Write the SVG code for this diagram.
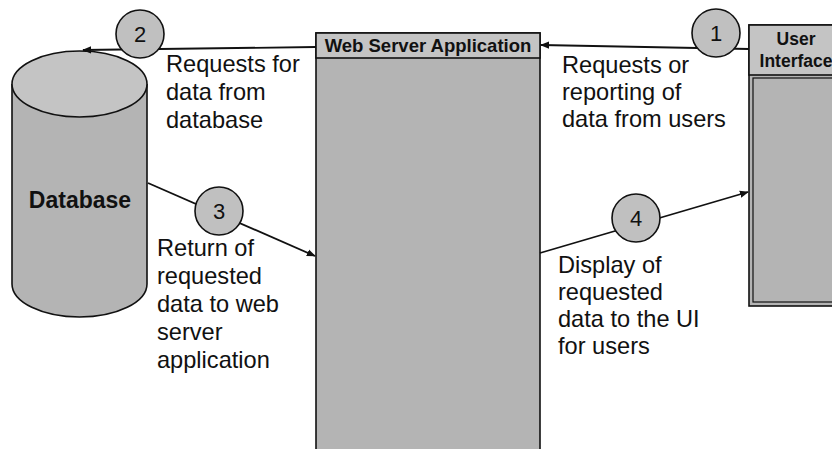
<svg xmlns="http://www.w3.org/2000/svg" width="832" height="449" viewBox="0 0 832 449">
<defs>
<style>
.shape{stroke:#111;stroke-width:1.6}
.body{fill:#b4b4b4}
.light{fill:#c4c4c4}
.conn{stroke:#111;stroke-width:1.8;fill:none}
.lbl{font-family:"Liberation Sans",Arial,sans-serif;font-size:23.6px;fill:#111}
.num{font-family:"Liberation Sans",Arial,sans-serif;font-size:22px;fill:#111;text-anchor:middle}
.ttl{font-family:"Liberation Sans",Arial,sans-serif;font-weight:bold;fill:#111;text-anchor:middle}
.badge{fill:#c0c0c0;stroke:#111;stroke-width:1.6}
</style>
<marker id="arr" viewBox="0 0 10 10" refX="9" refY="5" markerWidth="5" markerHeight="5" orient="auto-start-reverse" markerUnits="strokeWidth">
<path d="M0,1 L10,5 L0,9 z" fill="#111"/>
</marker>
</defs>
<rect width="832" height="449" fill="#fff"/>

<g id="database">
<path class="shape body" d="M12,84 L12,284 A67.5,33 0 0 0 147,284 L147,84"/>
<ellipse class="shape light" cx="79.5" cy="84" rx="67.5" ry="33"/>
<text class="ttl" x="80" y="208" font-size="23">Database</text>
</g>

<g id="web-server">
<rect class="shape body" x="316" y="33" width="224" height="430"/>
<rect class="shape light" x="316" y="33" width="224" height="25"/>
<text class="ttl" x="428" y="52" font-size="18.5">Web Server Application</text>
</g>

<g id="user-interface">
<rect class="shape body" x="749" y="25" width="100" height="281"/>
<rect class="shape light" x="749" y="25" width="100" height="50"/>
<rect x="753" y="78" width="96" height="224" fill="#b4b4b4" stroke="#111" stroke-width="1.2"/>
<text class="ttl" x="796" y="45" font-size="17.5">User</text>
<text class="ttl" x="796" y="67" font-size="17.5">Interface</text>
</g>

<g id="connectors">
<line class="conn" x1="749" y1="49" x2="541" y2="45" marker-end="url(#arr)"/>
<line class="conn" x1="316" y1="47" x2="83" y2="50" marker-end="url(#arr)"/>
<line class="conn" x1="148" y1="183" x2="315" y2="256" marker-end="url(#arr)"/>
<line class="conn" x1="540" y1="253" x2="748" y2="192" marker-end="url(#arr)"/>
</g>

<g id="step-1">
<circle class="badge" cx="716" cy="33" r="24"/>
<text class="num" x="716" y="41">1</text>
<text class="lbl" x="562"><tspan x="562" y="73">Requests or</tspan><tspan x="562" y="100">reporting of</tspan><tspan x="562" y="127">data from users</tspan></text>
</g>
<g id="step-2">
<circle class="badge" cx="140" cy="34" r="24"/>
<text class="num" x="140" y="42">2</text>
<text class="lbl" x="166"><tspan x="166" y="72">Requests for</tspan><tspan x="166" y="100">data from</tspan><tspan x="166" y="128">database</tspan></text>
</g>
<g id="step-3">
<circle class="badge" cx="219" cy="211" r="24"/>
<text class="num" x="219" y="219">3</text>
<text class="lbl" x="157"><tspan x="157" y="256">Return of</tspan><tspan x="157" y="284">requested</tspan><tspan x="157" y="312">data to web</tspan><tspan x="157" y="340">server</tspan><tspan x="157" y="368">application</tspan></text>
</g>
<g id="step-4">
<circle class="badge" cx="636" cy="218" r="24"/>
<text class="num" x="636" y="226">4</text>
<text class="lbl" x="558"><tspan x="558" y="273">Display of</tspan><tspan x="558" y="300">requested</tspan><tspan x="558" y="327">data to the UI</tspan><tspan x="558" y="354">for users</tspan></text>
</g>
</svg>
